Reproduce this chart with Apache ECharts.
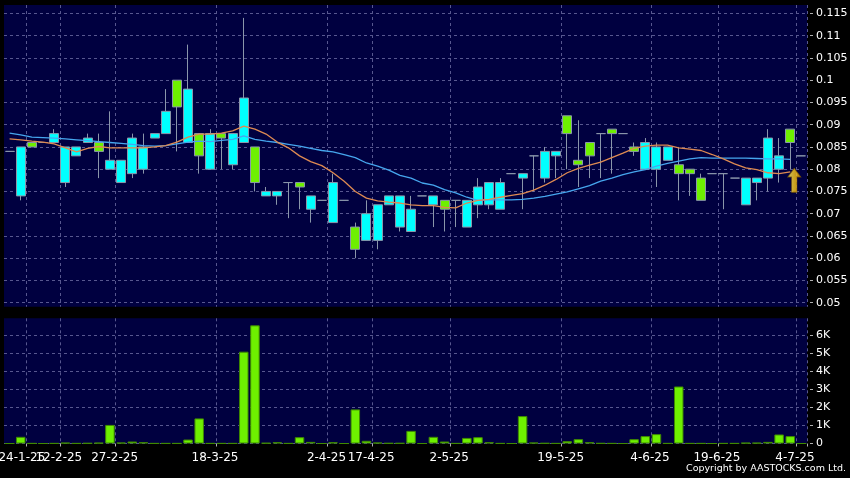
<!DOCTYPE html>
<html>
<head>
<meta charset="utf-8">
<script src="https://cdn.jsdelivr.net/npm/echarts@6/dist/echarts.min.js"></script>
<style>
html,body{margin:0;padding:0;background:#000;}
#chart{width:850px;height:478px;}
</style>
</head>
<body>
<div id="chart"></div>
<script>
// ---- data ----
var dates = ['20-1-25','22-1-25','24-1-25','27-1-25','6-2-25','12-2-25','14-2-25','18-2-25','21-2-25','25-2-25',
 '27-2-25','3-3-25','4-3-25','5-3-25','6-3-25','7-3-25','10-3-25','13-3-25','14-3-25','18-3-25',
 '19-3-25','20-3-25','21-3-25','24-3-25','25-3-25','26-3-25','27-3-25','28-3-25','1-4-25','2-4-25',
 '8-4-25','10-4-25','15-4-25','17-4-25','22-4-25','23-4-25','24-4-25','25-4-25','29-4-25','30-4-25',
 '2-5-25','6-5-25','7-5-25','8-5-25','9-5-25','12-5-25','13-5-25','14-5-25','15-5-25','16-5-25',
 '19-5-25','20-5-25','21-5-25','22-5-25','26-5-25','28-5-25','30-5-25','3-6-25','4-6-25','5-6-25',
 '6-6-25','10-6-25','12-6-25','16-6-25','19-6-25','23-6-25','25-6-25','27-6-25','30-6-25','2-7-25',
 '3-7-25','4-7-25'];
var tickDates = ['24-1-25','12-2-25','27-2-25','18-3-25','2-4-25','17-4-25','2-5-25','19-5-25','4-6-25','19-6-25','4-7-25'];

var opens  = [0.084,0.074,0.086,0.086,0.086,0.077,0.083,0.086,0.086,0.080,
              0.077,0.079,0.080,0.087,0.088,0.100,0.086,0.088,0.080,0.088,
              0.081,0.086,0.085,0.074,0.074,0.077,0.077,0.071,0.073,0.068,
              0.073,0.067,0.064,0.064,0.072,0.067,0.066,0.074,0.072,0.073,
              0.073,0.067,0.072,0.072,0.071,0.079,0.078,0.083,0.078,0.083,
              0.092,0.082,0.086,0.088,0.089,0.088,0.085,0.080,0.080,0.082,
              0.081,0.080,0.078,0.079,0.079,0.078,0.072,0.077,0.078,0.080,
              0.089,0.083];
var closes = [0.084,0.085,0.085,0.086,0.088,0.085,0.085,0.087,0.084,0.082,
              0.082,0.087,0.085,0.088,0.093,0.094,0.098,0.083,0.088,0.087,
              0.088,0.096,0.077,0.075,0.075,0.077,0.076,0.074,0.073,0.077,
              0.073,0.062,0.070,0.072,0.074,0.074,0.071,0.074,0.074,0.071,
              0.073,0.073,0.076,0.077,0.077,0.079,0.079,0.083,0.084,0.084,
              0.088,0.081,0.083,0.088,0.088,0.088,0.084,0.086,0.085,0.085,
              0.079,0.079,0.073,0.079,0.079,0.078,0.078,0.078,0.087,0.083,
              0.086,0.083];
var lows   = [0.084,0.073,0.085,0.086,0.086,0.076,0.083,0.086,0.078,0.080,
              0.077,0.078,0.079,0.087,0.088,0.084,0.086,0.079,0.080,0.080,
              0.080,0.086,0.075,0.074,0.072,0.069,0.071,0.068,0.073,0.068,
              0.073,0.060,0.064,0.062,0.072,0.066,0.066,0.074,0.067,0.066,
              0.067,0.067,0.069,0.071,0.071,0.079,0.071,0.075,0.077,0.078,
              0.080,0.076,0.078,0.078,0.079,0.088,0.083,0.080,0.076,0.082,
              0.073,0.074,0.073,0.079,0.071,0.078,0.072,0.073,0.075,0.077,
              0.080,0.083];
var highs  = [0.084,0.085,0.086,0.086,0.089,0.085,0.085,0.088,0.088,0.093,
              0.082,0.088,0.088,0.088,0.098,0.100,0.108,0.088,0.089,0.088,
              0.088,0.114,0.085,0.076,0.075,0.077,0.077,0.074,0.073,0.079,
              0.073,0.068,0.073,0.072,0.074,0.074,0.074,0.074,0.074,0.073,
              0.073,0.073,0.078,0.077,0.078,0.079,0.079,0.083,0.085,0.084,
              0.092,0.091,0.086,0.088,0.089,0.088,0.086,0.087,0.086,0.085,
              0.085,0.080,0.079,0.079,0.079,0.078,0.078,0.078,0.089,0.087,
              0.089,0.083];
var volumes = [0,370,10,0,10,40,10,20,40,1030,
               50,110,70,10,10,10,220,1390,10,10,
               10,5090,6550,30,70,10,350,90,0,70,
               0,1890,150,50,20,20,700,0,370,110,
               10,310,350,70,10,0,1520,50,20,10,
               130,240,70,15,10,0,240,410,520,10,
               3160,10,10,0,10,10,40,40,90,500,
               410,0];
var ma10 = [0.0868,0.0866,0.0863,0.0861,0.0857,0.0848,0.0839,0.0847,0.0851,0.0848,
            0.0848,0.0848,0.0848,0.0850,0.0853,0.0861,0.0872,0.0879,0.0879,0.0881,
            0.0886,0.0897,0.0890,0.0879,0.0861,0.0848,0.0830,0.0817,0.0808,0.0792,
            0.0773,0.0750,0.0735,0.0729,0.0726,0.0724,0.0720,0.0718,0.0718,0.0714,
            0.0713,0.0724,0.0730,0.0732,0.0737,0.0741,0.0745,0.0753,0.0764,0.0777,
            0.0792,0.0802,0.0809,0.0816,0.0826,0.0836,0.0847,0.0852,0.0854,0.0854,
            0.0848,0.0845,0.0842,0.0833,0.0823,0.0812,0.0803,0.0799,0.0792,0.0790,
            0.0794,null];
var ma20 = [0.0881,0.0877,0.0872,0.0871,0.0870,0.0868,0.0866,0.0864,0.0862,0.0860,
            0.0858,0.0856,0.0853,0.0852,0.0853,0.0857,0.0861,0.0863,0.0862,0.0865,
            0.0867,0.0875,0.0867,0.0863,0.0860,0.0856,0.0852,0.0847,0.0842,0.0839,
            0.0833,0.0826,0.0814,0.0807,0.0798,0.0786,0.0780,0.0769,0.0764,0.0754,
            0.0747,0.0737,0.0730,0.0731,0.0731,0.0731,0.0732,0.0735,0.0739,0.0744,
            0.0749,0.0756,0.0763,0.0773,0.0780,0.0788,0.0794,0.0799,0.0807,0.0813,
            0.0818,0.0823,0.0826,0.0825,0.0825,0.0825,0.0825,0.0824,0.0823,0.0823,
            0.0822,null];
var priceTicks = [0.05,0.055,0.06,0.065,0.07,0.075,0.08,0.085,0.09,0.095,0.1,0.105,0.11,0.115];
var volTicks = [0,1000,2000,3000,4000,5000,6000];
var arrowPoint = [70, 0.0775];

// ---- chart ----
var FONT = 'DejaVu Sans';
var GRIDC = '#57578f';
function isTickIdx(i){ return tickDates.indexOf(dates[i]) >= 0; }
function isFirstTick(i){ return dates[i] === tickDates[0]; }
function isOtherTick(i){ return isTickIdx(i) && !isFirstTick(i); }
var candleData = opens.map(function(o,i){ return [o, closes[i], lows[i], highs[i]]; });
var labelStyle = {color:'#ffffff', fontFamily:FONT, fontSize:12, margin:6};

var chart = echarts.init(document.getElementById('chart'), null, {renderer:'canvas'});
var option = {
  backgroundColor: '#000000',
  animation: false,
  grid: [
    {left:4, top:5, width:803, height:301.7, show:true, backgroundColor:'#000040', borderWidth:0, containLabel:false, outerBoundsMode:'none'},
    {left:4, top:318.3, width:803, height:125.2, show:true, backgroundColor:'#000040', borderWidth:0, containLabel:false, outerBoundsMode:'none'}
  ],
  xAxis: [
    {type:'category', gridIndex:0, position:'bottom', data:dates, boundaryGap:true,
     axisLine:{show:false}, axisTick:{show:false}, axisLabel:{show:false},
     splitLine:{show:true, interval:function(i){return isTickIdx(i);}, lineStyle:{color:GRIDC, type:[3,3], width:1}}},
    {type:'category', gridIndex:1, position:'bottom', data:dates, boundaryGap:true, offset:2,
     axisLine:{show:false},
     axisTick:{show:true, length:3, interval:function(i){return isTickIdx(i);}, lineStyle:{color:'#b0b0b0'}},
     axisLabel:Object.assign({show:true, interval:function(i){return isOtherTick(i);}, showMinLabel:true, showMaxLabel:true, hideOverlap:false,
       padding:[0,13,0,0]}, labelStyle),
     splitLine:{show:true, interval:function(i){return isTickIdx(i);}, lineStyle:{color:GRIDC, type:[3,3], width:1}}},
    {type:'category', gridIndex:1, position:'bottom', data:dates, boundaryGap:true, offset:2,
     axisLine:{show:false}, axisTick:{show:false}, splitLine:{show:false},
     axisLabel:Object.assign({show:true, interval:function(i){return isFirstTick(i);}, showMinLabel:true, hideOverlap:false,
       padding:[0,20,0,0]}, labelStyle)}
  ],
  yAxis: [
    {type:'value', gridIndex:0, position:'right', min:0.0491, max:0.1169, offset:3,
     axisLine:{show:false},
     axisTick:{show:true, length:3, customValues:priceTicks, lineStyle:{color:'#b0b0b0'}},
     axisLabel:{show:true, customValues:priceTicks, color:'#ffffff', fontFamily:FONT, fontSize:11, margin:6,
       formatter:function(v){ return String(+v.toFixed(3)); }},
     splitLine:{show:true, lineStyle:{color:GRIDC, type:[3,3], width:1}}},
    {type:'value', gridIndex:1, position:'right', min:0, max:6940, offset:3,
     axisLine:{show:false},
     axisTick:{show:true, length:3, customValues:volTicks, lineStyle:{color:'#b0b0b0'}},
     axisLabel:{show:true, customValues:volTicks, color:'#ffffff', fontFamily:FONT, fontSize:11, margin:6,
       formatter:function(v){ return v === 0 ? '0' : (v/1000) + 'K'; }},
     splitLine:{show:true, lineStyle:{color:GRIDC, type:[3,3], width:1}}}
  ],
  series: [
    {type:'candlestick', xAxisIndex:0, yAxisIndex:0, data:candleData, barWidth:9.5,
     itemStyle:{color:'#00ffff', color0:'#6ef000', borderColor:'#8a96aa', borderColor0:'#8a96aa', borderWidth:1}},
    {type:'line', xAxisIndex:0, yAxisIndex:0, data:ma20, symbol:'none', showSymbol:false,
     lineStyle:{color:'#46a6ee', width:1.3}},
    {type:'line', xAxisIndex:0, yAxisIndex:0, data:ma10, symbol:'none', showSymbol:false,
     lineStyle:{color:'#de8a52', width:1.3}},
    {type:'scatter', xAxisIndex:0, yAxisIndex:0, data:[arrowPoint], symbolOffset:[4,0],
     symbol:'path://M6,0 L12,8 L8.5,8 L8.5,22 L3.5,22 L3.5,8 L0,8 Z', symbolSize:[13,24],
     itemStyle:{color:new echarts.graphic.LinearGradient(0,0,1,0,[{offset:0,color:'#fff27a'},{offset:0.5,color:'#ffcc1a'},{offset:1,color:'#e09a00'}]),
       borderColor:'#7a5600', borderWidth:0.8}},
    {type:'bar', xAxisIndex:1, yAxisIndex:1, data:volumes, barWidth:9.5,
     itemStyle:{color:'#6ef000', borderColor:'#3f8a00', borderWidth:1}}
  ],
  graphic: [
    {type:'text', right:4, top:464,
     style:{text:'Copyright by AASTOCKS.com Ltd.', fill:'#ffffff', font:'9.5px "DejaVu Sans"'}}
  ]
};
chart.setOption(option);
</script>
</body>
</html>
